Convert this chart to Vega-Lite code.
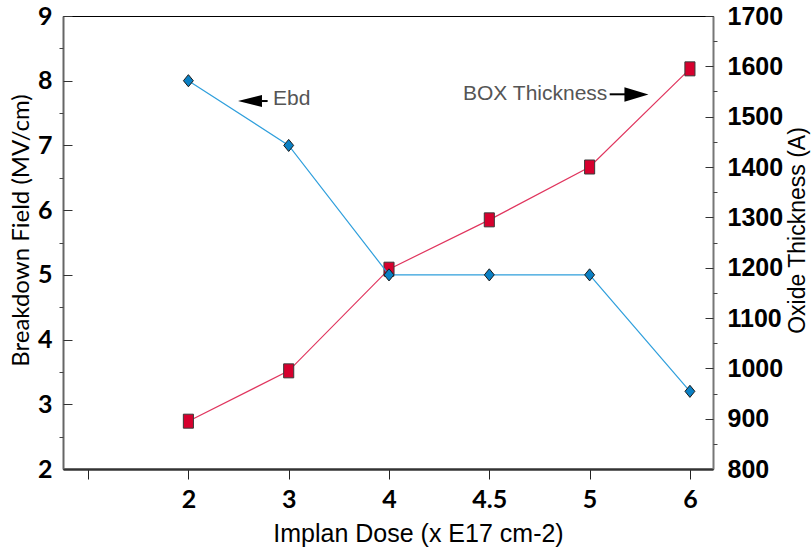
{
  "$schema": "https://vega.github.io/schema/vega-lite/v6.json",
  "width": 650,
  "height": 453,
  "autosize": {"type": "none"},
  "padding": {"left": 63, "top": 16, "right": 98, "bottom": 89},
  "background": "white",
  "config": {
    "view": {"stroke": "black", "strokeWidth": 1},
    "axis": {"labelFlush": false, "labelOverlap": false, "grid": false}
  },
  "data": {
    "values": [
      {"x": 2, "ebd": 8, "box": 895},
      {"x": 3, "ebd": 7, "box": 995},
      {"x": 4, "ebd": 5, "box": 1197},
      {"x": 5, "ebd": 5, "box": 1295},
      {"x": 6, "ebd": 5, "box": 1400},
      {"x": 7, "ebd": 3.2, "box": 1595}
    ]
  },
  "encoding": {
    "x": {
      "field": "x",
      "type": "quantitative",
      "scale": {"domain": [0.75, 7.23], "nice": false, "zero": false},
      "axis": {
        "orient": "bottom",
        "values": [1, 2, 3, 4, 5, 6, 7],
        "labelExpr": "datum.value==2?'2':datum.value==3?'3':datum.value==4?'4':datum.value==5?'4.5':datum.value==6?'5':datum.value==7?'6':''",
        "tickSize": 10,
        "tickColor": "#222",
        "tickWidth": 1,
        "labelPadding": 8,
        "labelFont": "Lato",
        "labelFontWeight": "bold",
        "labelFontSize": 25,
        "labelColor": "black",
        "labelFlush": false,
        "domainColor": "#333",
        "domainWidth": 2.5,
        "title": "Implan Dose (x E17 cm-2)",
        "titleFont": "Liberation Sans",
        "titleFontWeight": "normal",
        "titleFontSize": 25,
        "titleColor": "black",
        "titleBaseline": "alphabetic",
        "titleAlign": "center",
        "titleX": 355,
        "titleY": 72
      }
    }
  },
  "layer": [
    {
      "layer": [
        {
          "mark": {"type": "line", "color": "#e0355e", "strokeWidth": 1.2},
          "encoding": {
            "y": {
              "field": "box",
              "type": "quantitative",
              "scale": {"domain": [800, 1700], "nice": false, "zero": false},
              "axis": {
                "orient": "right",
                "values": [800, 900, 1000, 1100, 1200, 1300, 1400, 1500, 1600, 1700],
                "format": "d",
                "ticks": false,
                "labelPadding": 14,
                "labelFont": "Liberation Sans",
                "labelFontWeight": "bold",
                "labelFontSize": 25,
                "labelColor": "black",
                "domainColor": "#777",
                "domainWidth": 2,
                "title": "Oxide Thickness (A)",
                "titleFont": "Liberation Sans",
                "titleFontWeight": "normal",
                "titleFontSize": 23,
                "titleColor": "black",
                "titleAngle": -90,
                "titleAlign": "center",
                "titleBaseline": "middle",
                "titleX": 84,
                "titleY": 214
              }
            }
          }
        },
        {
          "mark": {"type": "point", "shape": "M-0.72,-1L0.72,-1L0.72,1L-0.72,1Z", "size": 196, "filled": true, "fill": "#d6002e", "stroke": "#3a3a3a", "strokeWidth": 1, "opacity": 1},
          "encoding": {
            "y": {
              "field": "box",
              "type": "quantitative",
              "axis": {
                "orient": "right",
                "values": [800, 900, 1000, 1100, 1200, 1300, 1400, 1500, 1600, 1700],
                "labels": false,
                "domain": false,
                "tickSize": -8,
                "tickColor": "#333",
                "title": null
              }
            }
          }
        },
        {
          "mark": {"type": "point", "opacity": 0},
          "encoding": {
            "y": {
              "field": "box",
              "type": "quantitative",
              "axis": {
                "orient": "right",
                "values": [850, 950, 1050, 1150, 1250, 1350, 1450, 1550, 1650],
                "labels": false,
                "domain": false,
                "tickSize": 4,
                "tickColor": "#444",
                "title": null
              }
            }
          }
        }
      ],
      "resolve": {"axis": {"y": "independent"}}
    },
    {
      "layer": [
        {
          "mark": {"type": "line", "color": "#2f9fdc", "strokeWidth": 1.2},
          "encoding": {
            "y": {
              "field": "ebd",
              "type": "quantitative",
              "scale": {"domain": [2, 9], "nice": false, "zero": false},
              "axis": {
                "orient": "left",
                "values": [2, 3, 4, 5, 6, 7, 8, 9],
                "ticks": false,
                "labelPadding": 11,
                "labelFont": "Lato",
                "labelFontWeight": "bold",
                "labelFontSize": 25,
                "labelColor": "black",
                "domainColor": "#666",
                "domainWidth": 2,
                "title": "Breakdown Field (MV/cm)",
                "titleFont": "Lato",
                "titleFontWeight": "normal",
                "titleFontSize": 24,
                "titleColor": "black",
                "titleAngle": -90,
                "titleAlign": "center",
                "titleBaseline": "middle",
                "titleX": -42,
                "titleY": 214
              }
            }
          }
        },
        {
          "mark": {"type": "point", "shape": "M0,-1.1L0.9,0L0,1.1L-0.9,0Z", "size": 121, "filled": true, "fill": "#0a80c4", "stroke": "#1a1a1a", "strokeWidth": 1, "opacity": 1},
          "encoding": {
            "y": {
              "field": "ebd",
              "type": "quantitative",
              "axis": {
                "orient": "left",
                "values": [2, 3, 4, 5, 6, 7, 8, 9],
                "labels": false,
                "domain": false,
                "tickSize": -9,
                "tickColor": "#333",
                "title": null
              }
            }
          }
        },
        {
          "mark": {"type": "point", "opacity": 0},
          "encoding": {
            "y": {
              "field": "ebd",
              "type": "quantitative",
              "axis": {
                "orient": "left",
                "values": [2.5, 3.5, 4.5, 5.5, 6.5, 7.5, 8.5],
                "labels": false,
                "domain": false,
                "tickSize": 4,
                "tickColor": "#444",
                "title": null
              }
            }
          }
        },
        {
          "data": {
            "values": [
              {"x": 2.844, "y": 7.72, "label": "Ebd"},
              {"x": 4.738, "y": 7.79, "label": "BOX Thickness"}
            ]
          },
          "mark": {"type": "text", "align": "left", "baseline": "middle", "font": "Liberation Sans", "fontSize": 21, "color": "#555"},
          "encoding": {
            "y": {"field": "y", "type": "quantitative", "axis": null},
            "text": {"field": "label"}
          }
        },
        {
          "data": {
            "values": [
              {"x": 2.734, "x2": 2.79, "y": 7.686},
              {"x": 6.2, "x2": 6.37, "y": 7.79}
            ]
          },
          "mark": {"type": "rule", "color": "black", "strokeWidth": 2},
          "encoding": {
            "x2": {"field": "x2"},
            "y": {"field": "y", "type": "quantitative", "axis": null}
          }
        },
        {
          "data": {
            "values": [
              {"x": 2.614, "y": 7.686, "dir": "left"},
              {"x": 6.467, "y": 7.787, "dir": "right"}
            ]
          },
          "mark": {"type": "point", "filled": true, "color": "black", "opacity": 1, "size": 576},
          "encoding": {
            "y": {"field": "y", "type": "quantitative", "axis": null},
            "shape": {
              "field": "dir",
              "type": "nominal",
              "scale": {"domain": ["left", "right"], "range": ["M-1,0L1,-0.5L1,0.5Z", "M1,0L-1,-0.6L-1,0.6Z"]},
              "legend": null
            }
          }
        }
      ],
      "resolve": {"axis": {"y": "independent"}}
    }
  ],
  "resolve": {"scale": {"y": "independent"}, "axis": {"y": "independent"}}
}
